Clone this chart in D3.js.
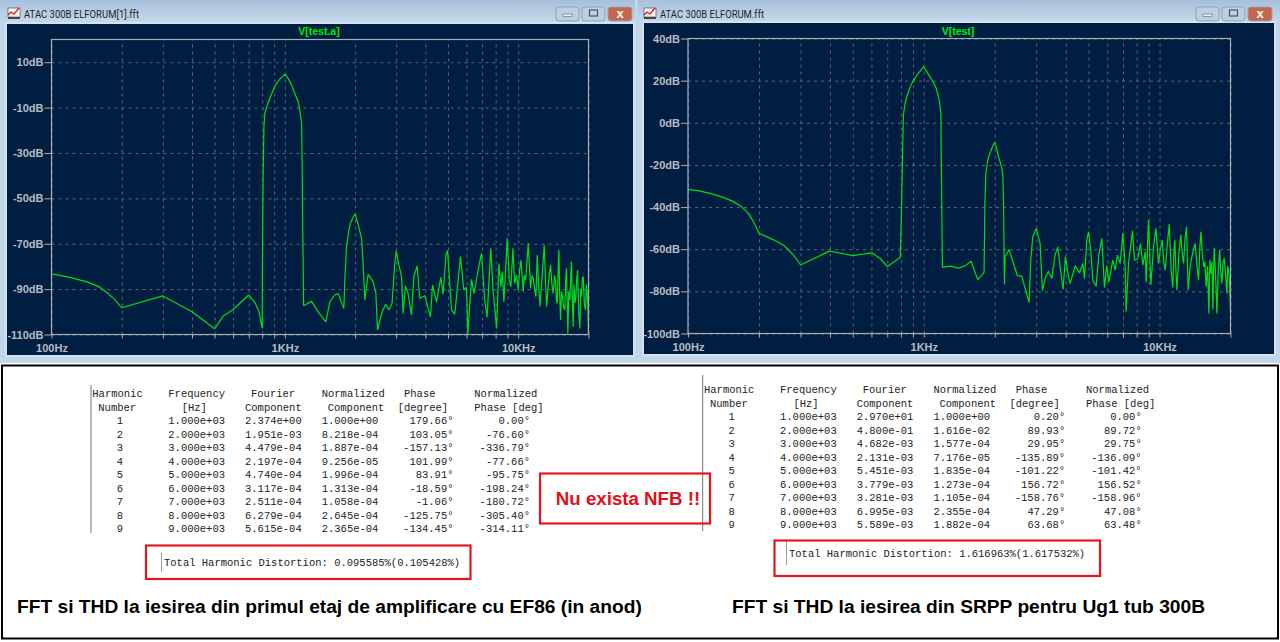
<!DOCTYPE html>
<html>
<head>
<meta charset="utf-8">
<script src="https://cdn.jsdelivr.net/npm/d3@7"></script>
<style>
  html, body { margin: 0; padding: 0; background: #fff; }
  svg { display: block; }
</style>
</head>
<body>
<div id="chart"></div>
<script>
// FFT of the EF86 stage (left window)
var leftFreq = [100,120,143,160,172,185,200,300,400,500,543,600,700,745,775,800,801,806,810,813,821,840,863,890,921,960,1000,1030,1068,1100,1140,1160,1179,1187,1197,1203,1301,1389,1498,1558,1637,1692,1789,1807,1837,1870,1898,1950,2000,2060,2100,2131,2164,2201,2273,2389,2453,2495,2595,2700,2797,2880,2950,3000,3050,3161,3211,3288,3373,3488,3568,3686,3786,3977,4207,4292,4464,4657,4764,4900,4977,5175,5346,5656,5843,6000,6077,6303,6466,6726,6957,7186,7351,7626,7800,8076,8264,8430,8540,8682,8826,8972,9151,9303,9488,9645,9837,10000,10130,10266,10400,10505,10620,10750,10900,11037,11170,11294,11450,11595,11750,11904,12062,12220,12382,12500,12628,12780,12921,13080,13226,13340,13445,13600,13756,13940,14122,14290,14449,14570,14688,14800,14931,15050,15178,15320,15479,15660,15839,15970,16101,16200,16314,16470,16639,16780,16915,17050,17195,17340,17500,17658,17800,17951,18160,18370,18520,18673,18830,18982,19200,19423,19580,19744,19880,20000];
var leftDb = [-83.3,-84.8,-86.9,-89,-91.4,-94.2,-98.2,-93,-100,-107.5,-102,-99,-92.6,-96,-100,-107.3,-84.5,-41.9,-30,-18.4,-12.5,-9,-5.9,-2.4,0.7,3,4.7,3,0,-3.5,-7.4,-11.5,-16.9,-38.8,-77.2,-97.3,-95.4,-100,-104.4,-95.6,-92.6,-91.9,-98.5,-86,-71.3,-66,-61.8,-58.8,-56.9,-61.5,-65,-67.6,-78.6,-94.8,-83.5,-86.7,-91.7,-108,-100.7,-96.7,-99.2,-96.1,-80,-73,-77.5,-84.5,-100.7,-88.6,-91.9,-101.4,-84.5,-79.8,-94,-92.9,-102.2,-88.2,-95.6,-84.8,-92.2,-75,-73,-99.2,-101.1,-75.7,-90.4,-89.2,-109.8,-85.7,-91.9,-81.9,-74.2,-94.8,-102.4,-72,-90.4,-107.3,-78.7,-88.9,-82.3,-95.5,-81.6,-67.6,-86,-88.9,-72,-87.5,-83.8,-90.4,-82,-77.2,-85,-91.1,-84,-86,-78,-69.8,-80,-89.7,-84,-85.3,-90,-93.3,-75,-88,-97.7,-92,-86,-78,-70.6,-86,-97.7,-93,-88.9,-83,-79.4,-88,-91.9,-84,-86,-95,-96.3,-84,-72.8,-92,-103.6,-91,-93.3,-98,-99.2,-86,-80.9,-95,-109.5,-91,-94.8,-84,-77.9,-95,-106.6,-88,-96,-93.3,-86,-81.6,-100,-107.3,-90,-93.3,-85,-84.5,-97,-99.2,-88,-91.9,-97,-109.8];

// FFT of the SRPP stage (right window)
var rightFreq = [100,110,124,141,155,169,178,186,193,200,219,235,254,268,280,290,300,388,400,500,602,653,701,794,800,810,815,820,830,840,865,890,940,1000,1060,1100,1129,1163,1182,1185,1195,1200,1294,1404,1497,1587,1693,1801,1804,1817,1834,1864,1890,1927,1960,2000,2040,2075,2110,2145,2166,2180,2194,2200,2212,2301,2400,2496,2604,2797,2843,2900,3000,3115,3187,3271,3379,3491,3607,3702,3812,3900,3990,4109,4176,4385,4575,4727,4804,4915,5000,5111,5212,5385,5527,5692,5841,5976,6094,6338,6484,6633,6808,6988,7149,7219,7386,7681,7832,8092,8305,8497,8693,8778,8981,9188,9431,9648,9903,10080,10264,10420,10570,10780,10992,11200,11393,11500,11617,11730,11848,12080,12318,12480,12644,12830,13021,13130,13234,13480,13719,13950,14175,14410,14644,14810,14983,15180,15373,15570,15780,15990,16196,16350,16516,16680,16842,16950,17062,17290,17513,17740,17975,18180,18390,18600,18814,19060,19312,19470,19629,19820,20000];
var rightDb = [-31.6,-32.2,-33.5,-35.4,-37.3,-39.9,-42.3,-45.4,-48.5,-52.5,-54.4,-56,-58.1,-60.5,-62.8,-65,-67.5,-61.5,-60.9,-63,-61.7,-64.4,-68.2,-63.9,-52.4,-25.6,-8.2,3.7,8,10.8,15.5,18.7,23,26.6,22,19,16.4,10.8,4.5,-13,-50.9,-68.6,-68,-69,-67.9,-65.7,-74.4,-71,-66.6,-38.3,-24,-18.5,-15.5,-13.3,-11,-9.3,-12.5,-16.1,-18.8,-21.6,-25.6,-39,-66.6,-76.7,-63.6,-60.1,-66.8,-72.5,-72.8,-85.3,-65.2,-54.1,-50.1,-57.3,-79.7,-73.9,-70.4,-73.9,-62.8,-58.9,-70.7,-79.1,-63.6,-73.1,-76.3,-67.9,-71.2,-66.8,-73.9,-55.7,-51.7,-60.4,-74.7,-77.5,-62.8,-54.9,-78.2,-67.6,-75.5,-65.2,-69.9,-62.8,-66.8,-52.5,-68.4,-89.7,-66.8,-51.3,-65.2,-64.4,-57.3,-67.6,-61.2,-75.5,-46.2,-77,-58.9,-50.1,-66.8,-60,-55.7,-66,-69.9,-58,-48.1,-70,-78.2,-62,-55.7,-70,-79.4,-62,-53.3,-62,-66.8,-55,-49.4,-66,-79.4,-68,-63.6,-60,-57.3,-68,-74.7,-60,-51.7,-62,-68.4,-66,-77.8,-68,-90.5,-65,-71.5,-66,-88.6,-70,-59.6,-72,-90.5,-70,-60.4,-70,-76.3,-66,-64.4,-72,-81,-68,-69.9,-76,-88.9];

var leftDbTicks = [10,-10,-30,-50,-70,-90,-110];
var rightDbTicks = [40,20,0,-20,-40,-60,-80,-100];
var freqTicks = [100,200,300,400,500,600,700,800,900,1000,2000,3000,4000,5000,6000,7000,8000,9000,10000,20000];
var freqLabels = {100: "100Hz", 1000: "1KHz", 10000: "10KHz"};

// harmonic tables
var harmonics = ["1","2","3","4","5","6","7","8","9"];
var harmFreq = ["1.000e+03","2.000e+03","3.000e+03","4.000e+03","5.000e+03","6.000e+03","7.000e+03","8.000e+03","9.000e+03"];
var leftFourier = ["2.374e+00","1.951e-03","4.479e-04","2.197e-04","4.740e-04","3.117e-04","2.511e-04","6.279e-04","5.615e-04"];
var leftNorm = ["1.000e+00","8.218e-04","1.887e-04","9.256e-05","1.996e-04","1.313e-04","1.058e-04","2.645e-04","2.365e-04"];
var leftPhase = ["179.66°","103.05°","-157.13°","101.99°","83.91°","-18.59°","-1.06°","-125.75°","-134.45°"];
var leftNormPhase = ["0.00°","-76.60°","-336.79°","-77.66°","-95.75°","-198.24°","-180.72°","-305.40°","-314.11°"];
var rightFourier = ["2.970e+01","4.800e-01","4.682e-03","2.131e-03","5.451e-03","3.779e-03","3.281e-03","6.995e-03","5.589e-03"];
var rightNorm = ["1.000e+00","1.616e-02","1.577e-04","7.176e-05","1.835e-04","1.273e-04","1.105e-04","2.355e-04","1.882e-04"];
var rightPhase = ["0.20°","89.93°","29.95°","-135.89°","-101.22°","156.72°","-158.76°","47.29°","63.68°"];
var rightNormPhase = ["0.00°","89.72°","29.75°","-136.09°","-101.42°","156.52°","-158.96°","47.08°","63.48°"];

var svg = d3.select("#chart").append("svg")
    .attr("width", 1280)
    .attr("height", 642)
    .style("background-color", "#fff");

var defs = svg.append("defs");
var grad = defs.append("linearGradient").attr("id", "titlebar")
    .attr("x1", 0).attr("x2", 0).attr("y1", 0).attr("y2", 1);
grad.append("stop").attr("offset", "0%").attr("stop-color", "#a6c0dc");
grad.append("stop").attr("offset", "100%").attr("stop-color", "#c6d9ea");

svg.append("rect").attr("width", 1280).attr("height", 363).attr("fill", "#c2d6e9");

function drawWindow(o) {
  var g = svg.append("g");
  g.append("rect").attr("x", o.wx).attr("y", 0).attr("width", o.ww).attr("height", 362)
    .attr("fill", "#c2d6e9");
  g.append("rect").attr("x", o.wx).attr("y", 0).attr("width", o.ww).attr("height", 23)
    .attr("fill", "url(#titlebar)");
  g.append("rect").attr("x", o.inner[0] - 1).attr("y", o.inner[1] - 1)
    .attr("width", o.inner[2] - o.inner[0] + 2).attr("height", o.inner[3] - o.inner[1] + 2)
    .attr("fill", "none").attr("stroke", "#e8eef4");
  g.append("rect").attr("x", o.inner[0]).attr("y", o.inner[1])
    .attr("width", o.inner[2] - o.inner[0]).attr("height", o.inner[3] - o.inner[1])
    .attr("fill", "#001d42");

  // title icon
  var ix = o.titleX - 16;
  g.append("rect").attr("x", ix).attr("y", 8).attr("width", 12).attr("height", 9).attr("fill", "#f4f4f4").attr("stroke", "#555").attr("stroke-width", 0.7);
  g.append("path").attr("d", "M" + ix + " 15l3-3 3 2 5-6").attr("fill", "none").attr("stroke", "#e01818").attr("stroke-width", 1.3);
  g.append("rect").attr("x", ix).attr("y", 17).attr("width", 12).attr("height", 2).attr("fill", "#444");

  g.append("text").attr("x", o.titleX).attr("y", 18)
    .attr("textLength", o.titleW).attr("lengthAdjust", "spacingAndGlyphs")
    .style("font-family", "Roboto, sans-serif").style("font-size", "11px").attr("fill", "#1c2530")
    .text(o.title);

  // window buttons
  var bx = o.btnX;
  [23, 23, 24].forEach(function(w, i) {
    g.append("rect").attr("x", bx).attr("y", 7).attr("width", w).attr("height", 14).attr("rx", 3)
      .attr("fill", i == 2 ? "#c8654f" : "#bdd0e3").attr("stroke", "#8ea3b8");
    if (i == 0) g.append("rect").attr("x", bx + 7).attr("y", 14).attr("width", 9).attr("height", 2.5).attr("fill", "#eef").attr("stroke", "#567").attr("stroke-width", 0.6);
    if (i == 1) g.append("rect").attr("x", bx + 7.5).attr("y", 10).attr("width", 8).attr("height", 6).attr("fill", "none").attr("stroke", "#456").attr("stroke-width", 1.2);
    if (i == 2) g.append("text").attr("x", bx + w / 2).attr("y", 18).attr("text-anchor", "middle")
      .attr("fill", "#fff").style("font-family", "'Liberation Sans'").style("font-weight", "bold").style("font-size", "13px").text("x");
    bx += w + 3;
  });

  var x = d3.scaleLog().domain([100, 20000]).range([o.x0, o.x1]);
  var y = d3.scaleLinear().domain(o.dbDomain).range([o.y1, o.y0]);
  var h = o.y1 - o.y0, w = o.x1 - o.x0;

  // dashed grid
  g.append("g").attr("transform", "translate(0," + o.y1 + ")")
    .call(d3.axisBottom(x).tickValues(freqTicks).tickSize(-h).tickFormat(""))
    .call(function(s) { s.select(".domain").remove(); s.selectAll("line").attr("stroke", "#5b6874").attr("stroke-dasharray", "3,4"); });
  g.append("g").attr("transform", "translate(" + o.x0 + ",0)")
    .call(d3.axisLeft(y).tickValues(o.dbTicks).tickSize(-w).tickFormat(""))
    .call(function(s) { s.select(".domain").remove(); s.selectAll("line").attr("stroke", "#5b6874").attr("stroke-dasharray", "3,4"); });

  // the spectrum itself
  var line = d3.line().x(function(d) { return x(d[0]); }).y(function(d) { return y(d[1]); });
  g.append("path").datum(d3.zip(o.freq, o.db))
    .attr("d", line).attr("fill", "none").attr("stroke", "#00e010").attr("stroke-width", 1.2)
    .attr("stroke-linejoin", "bevel");

  // axes
  var ax = g.append("g").attr("transform", "translate(0," + o.y1 + ")")
    .call(d3.axisBottom(x).tickValues(freqTicks).tickSize(4).tickSizeOuter(0)
      .tickFormat(function(d) { return freqLabels[d] || ""; }));
  ax.selectAll("text").attr("dy", "0.95em");
  var ay = g.append("g").attr("transform", "translate(" + o.x0 + ",0)")
    .call(d3.axisLeft(y).tickValues(o.dbTicks).tickSize(7).tickPadding(1).tickSizeOuter(0)
      .tickFormat(function(d) { return d + "dB"; }));
  [ax, ay].forEach(function(a) {
    a.select(".domain").remove();
    a.selectAll("line").attr("stroke", "#a9aeb4");
    a.selectAll("text").attr("fill", "#b8bdc2")
      .style("font-family", "'Liberation Sans'").style("font-weight", "bold").style("font-size", "11px");
  });
  g.append("rect").attr("x", o.x0).attr("y", o.y0).attr("width", w).attr("height", h)
    .attr("fill", "none").attr("stroke", "#a9aeb4").attr("stroke-width", 1.2);

  g.append("text").attr("x", o.legendX).attr("y", 35).attr("text-anchor", "middle")
    .attr("fill", "#00f000").style("font-family", "'Liberation Sans'").style("font-weight", "bold").style("font-size", "10.5px")
    .text(o.legend);
}

drawWindow({wx: 0, ww: 635, inner: [7, 24, 633, 355], titleX: 24, titleW: 115, title: "ATAC 300B ELFORUM[1].fft", btnX: 556,
  x0: 51.5, x1: 588.5, y0: 39.5, y1: 334.5, dbDomain: [-110, 20], dbTicks: leftDbTicks,
  freq: leftFreq, db: leftDb, legend: "V[test.a]", legendX: 319});
drawWindow({wx: 638, ww: 642, inner: [644, 23, 1274, 354], titleX: 660, titleW: 104, title: "ATAC 300B ELFORUM.fft", btnX: 1196,
  x0: 688, x1: 1230.5, y0: 38.5, y1: 333.5, dbDomain: [-100, 40], dbTicks: rightDbTicks,
  freq: rightFreq, db: rightDb, legend: "V[test]", legendX: 958});

// white text panel
svg.append("rect").attr("x", 2).attr("y", 365.5).attr("width", 1276).attr("height", 273)
  .attr("fill", "#fff").attr("stroke", "#000").attr("stroke-width", 2);

function drawTable(ox, oy, fourier, norm, phase, normPhase, top, bottom) {
  var g = svg.append("g").style("font-family", "'Liberation Mono'").style("font-size", "10.5px").attr("fill", "#222");
  g.append("line").attr("x1", ox + 91).attr("x2", ox + 91).attr("y1", top).attr("y2", bottom).attr("stroke", "#777");
  var head = [
    [92.3, 0, "Harmonic"], [98.3, 1, "Number"], [168.3, 0, "Frequency"], [181.7, 1, "[Hz]"],
    [251, 0, "Fourier"], [245, 1, "Component"], [321.7, 0, "Normalized"], [327.7, 1, "Component"],
    [404, 0, "Phase"], [397.7, 1, "[degree]"], [474.3, 0, "Normalized"], [474.3, 1, "Phase [deg]"]
  ];
  head.forEach(function(t) {
    g.append("text").attr("x", ox + t[0]).attr("y", oy + 397 + t[1] * 13.5).text(t[2]);
  });
  var rowY = d3.scaleLinear().domain([0, 8]).range([oy + 424, oy + 532]);
  function col(values, xp, anchor) {
    g.selectAll(null).data(values).enter().append("text")
      .attr("x", ox + xp).attr("y", function(d, i) { return rowY(i); })
      .attr("text-anchor", anchor).text(function(d) { return d; });
  }
  col(harmonics, 120, "middle");
  col(harmFreq, 168.3, "start");
  col(fourier, 245, "start");
  col(norm, 321.7, "start");
  col(phase, 453.5, "end");
  col(normPhase, 530, "end");
}
drawTable(0, 0, leftFourier, leftNorm, leftPhase, leftNormPhase, 385, 533);
drawTable(611.7, -3.6, rightFourier, rightNorm, rightPhase, rightNormPhase, 375, 531);

// red call-outs
function redBox(x0, y0, x1, y1) {
  svg.append("rect").attr("x", x0).attr("y", y0).attr("width", x1 - x0).attr("height", y1 - y0)
    .attr("fill", "none").attr("stroke", "#e8141c").attr("stroke-width", 2.2);
}
redBox(146, 545.5, 470.5, 579);
redBox(774.5, 540.5, 1100, 576);
redBox(540, 473.5, 710, 523.5);

function thd(x, y, bar0, bar1, txt) {
  svg.append("line").attr("x1", x - 2.5).attr("x2", x - 2.5).attr("y1", bar0).attr("y2", bar1).attr("stroke", "#999");
  svg.append("text").attr("x", x).attr("y", y)
    .style("font-family", "'Liberation Mono'").style("font-size", "10.5px").attr("fill", "#222").text(txt);
}
thd(164, 566, 553, 572, "Total Harmonic Distortion: 0.095585%(0.105428%)");
thd(789, 557, 541, 565, "Total Harmonic Distortion: 1.616963%(1.617532%)");

svg.append("text").attr("x", 628).attr("y", 505).attr("text-anchor", "middle")
  .attr("fill", "#e01018").style("font-family", "'Liberation Sans'").style("font-weight", "bold").style("font-size", "18.7px")
  .text("Nu exista NFB !!");

svg.append("text").attr("x", 17).attr("y", 613)
  .attr("fill", "#000").style("font-family", "'Liberation Sans'").style("font-weight", "bold").style("font-size", "19.2px")
  .text("FFT si THD la iesirea din primul etaj de amplificare cu EF86 (in anod)");
svg.append("text").attr("x", 732).attr("y", 613)
  .attr("fill", "#000").style("font-family", "'Liberation Sans'").style("font-weight", "bold").style("font-size", "19.2px")
  .text("FFT si THD la iesirea din SRPP pentru Ug1 tub 300B");
</script>
</body>
</html>
